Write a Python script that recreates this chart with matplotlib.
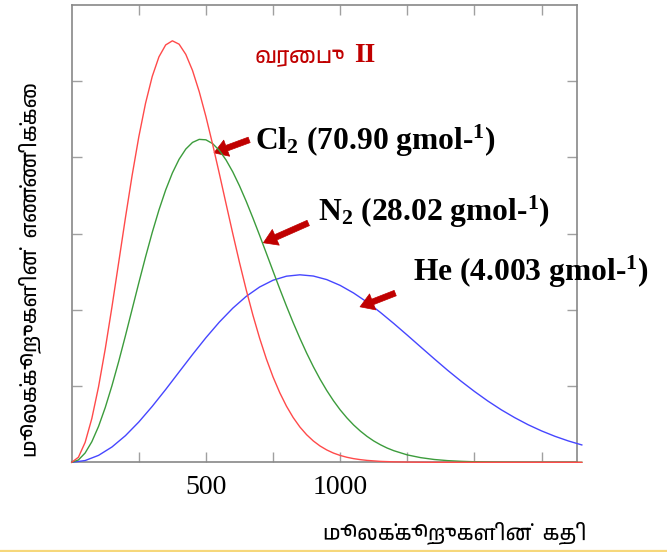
import matplotlib
matplotlib.use("Agg")
import matplotlib.pyplot as plt
from matplotlib import font_manager as fm
from matplotlib.lines import Line2D

# ---------------- data ----------------
cl2_speed = [0, 25, 50, 75, 100, 125, 150, 175, 200, 225, 250, 275, 300, 325, 350, 375,
             400, 425, 450, 475, 500, 525, 550, 575, 600, 625, 650, 675, 700, 725, 750,
             775, 800, 825, 850, 875, 900, 925, 950, 975, 1000, 1025, 1050, 1075, 1100,
             1150, 1200, 1250, 1300, 1350, 1900]
cl2_count = [0, 0.066, 0.261, 0.575, 0.991, 1.488, 2.040, 2.622, 3.205, 3.763, 4.271, 4.710,
             5.063, 5.320, 5.476, 5.530, 5.486, 5.352, 5.141, 4.863, 4.535, 4.171, 3.786,
             3.391, 3.000, 2.621, 2.263, 1.930, 1.628, 1.357, 1.119, 0.913, 0.736, 0.587,
             0.463, 0.362, 0.280, 0.214, 0.162, 0.121, 0.090, 0.066, 0.048, 0.035, 0.025,
             0.012, 0.006, 0.003, 0.001, 0, 0]

n2_speed = [0, 25, 50, 75, 100, 125, 150, 175, 200, 225, 250, 275, 300, 325, 350, 375,
            400, 425, 450, 475, 500, 525, 550, 575, 600, 625, 650, 675, 700, 725, 750,
            775, 800, 825, 850, 875, 900, 925, 950, 975, 1000, 1025, 1050, 1075, 1100,
            1125, 1150, 1175, 1200, 1250, 1300, 1350, 1400, 1450, 1500, 1550, 1600, 1650,
            1700, 1900]
n2_count = [0, 0.031, 0.122, 0.270, 0.471, 0.719, 1.006, 1.322, 1.659, 2.007, 2.355, 2.694,
            3.016, 3.311, 3.573, 3.796, 3.976, 4.110, 4.197, 4.237, 4.231, 4.181, 4.092,
            3.966, 3.810, 3.627, 3.424, 3.205, 2.977, 2.743, 2.508, 2.275, 2.049, 1.832,
            1.627, 1.434, 1.255, 1.091, 0.942, 0.808, 0.688, 0.583, 0.490, 0.410, 0.340,
            0.280, 0.230, 0.187, 0.152, 0.097, 0.061, 0.037, 0.022, 0.013, 0.007, 0.004,
            0.002, 0.001, 0, 0]

he_speed = [0, 50, 100, 150, 200, 250, 300, 350, 400, 450, 500, 550, 600, 650, 700, 750,
            800, 850, 900, 950, 1000, 1050, 1100, 1150, 1200, 1250, 1300, 1350, 1400, 1450,
            1500, 1550, 1600, 1650, 1700, 1750, 1800, 1850, 1900]
he_count = [0, 0.023, 0.091, 0.201, 0.349, 0.529, 0.734, 0.955, 1.185, 1.414, 1.635, 1.840,
            2.022, 2.177, 2.300, 2.389, 2.442, 2.460, 2.444, 2.397, 2.321, 2.221, 2.102,
            1.966, 1.820, 1.668, 1.513, 1.359, 1.208, 1.065, 0.930, 0.804, 0.689, 0.586,
            0.493, 0.412, 0.341, 0.280, 0.228]

x_ticks = [250, 500, 750, 1000, 1250, 1500, 1750]
x_tick_labels = ["", "500", "", "1000", "", "", ""]
y_ticks = [1, 2, 3, 4, 5]

title_ta = "வரைபு"
title_num = "II"
x_label = "மூலக்கூறுகளின்  கதி"
y_label = "மூலக்கூறுகளின்  எண்ணிக்கை"
label_cl2 = "Cl$_2$ (70.90 gmol-$^1$)"
label_n2 = "N$_2$ (28.02 gmol-$^1$)"
label_he = "He (4.003 gmol-$^1$)"

# arrow tips (on curves) and tails, in data units
arrow_cl2 = ((530, 4.06), (661, 4.23))
arrow_n2 = ((714, 2.88), (881, 3.14))
arrow_he = ((1074, 2.04), (1205, 2.22))


# ---------------- fonts ----------------
def find_tamil_font():
    try:
        from matplotlib.ft2font import FT2Font
    except Exception:
        return None
    cands = sorted(fm.fontManager.ttflist, key=lambda f: ("Tamil" not in f.name, f.name))
    seen = set()
    for f in cands:
        if "CJK" in f.name or f.fname in seen:
            continue
        seen.add(f.fname)
        try:
            if 0x0B95 in FT2Font(f.fname).get_charmap():
                return f.name
        except Exception:
            pass
    return None


tamil = find_tamil_font()
tamil_family = [tamil, "DejaVu Sans"] if tamil else ["DejaVu Sans"]
serif = "Liberation Serif"

plt.rcParams["mathtext.default"] = "regular"

W, H = 667, 552
fig = plt.figure(figsize=(W / 100, H / 100), dpi=100)
fig.patch.set_facecolor("white")


def fx(px):
    return px / W


def fy(py):
    return 1 - py / H


ax = fig.add_axes([fx(71.7), fy(462.3), fx(576.7) - fx(71.7), fy(5) - fy(462.3)])

ax.plot(he_speed, he_count, color="#4646ff", lw=1.0, zorder=3, clip_on=False)
ax.plot(n2_speed, n2_count, color="#3c9c3c", lw=1.0, zorder=4, clip_on=False)
ax.plot(cl2_speed, cl2_count, color="#ff4a4a", lw=1.0, zorder=5, clip_on=False)

ax.set_xlim(0, 1881)
ax.set_ylim(0, 6)
ax.set_xticks(x_ticks)
ax.set_xticklabels(x_tick_labels, fontfamily=serif, fontsize=20)
ax.set_yticks(y_ticks)
ax.set_yticklabels([])
ax.tick_params(axis="both", direction="in", length=7.5, width=1.0, color="#a0a0a0",
               top=True, right=True)
ax.tick_params(axis="x", pad=9)
for s in ax.spines.values():
    s.set_color("#888888")
    s.set_linewidth(1.2)

# annotations
ann_size = 22.7
fig.text(fx(255), fy(141), label_cl2, fontfamily=serif, fontweight="bold", fontsize=ann_size,
         ha="left", va="center")
fig.text(fx(318), fy(212), label_n2, fontfamily=serif, fontweight="bold", fontsize=ann_size,
         ha="left", va="center")
fig.text(fx(413), fy(272), label_he, fontfamily=serif, fontweight="bold", fontsize=ann_size,
         ha="left", va="center")

arrow_style = dict(arrowstyle="simple,head_length=0.75,head_width=0.95,tail_width=0.32",
                   fc="#c00000", ec="#c00000", lw=0.5, mutation_scale=13,
                   shrinkA=0, shrinkB=0)
for tip, tail in (arrow_cl2, arrow_n2, arrow_he):
    ax.annotate("", xy=tip, xytext=tail, arrowprops=arrow_style, annotation_clip=False)

# title
fig.text(fx(300), fy(58), title_ta, family=tamil_family, fontweight="bold", fontsize=16,
         color="#c00000", ha="center", va="center")
fig.text(fx(365), fy(55), title_num, fontfamily=serif, fontweight="bold", fontsize=20,
         color="#c00000", ha="center", va="center")

# axis labels
fig.text(fx(455), fy(533), x_label, family=tamil_family, fontweight="bold", fontsize=15,
         ha="center", va="center")
fig.text(fx(30), fy(270), y_label, family=tamil_family, fontweight="bold", fontsize=15,
         rotation=90, ha="center", va="center")

# thin yellow rule along the bottom edge
fig.add_artist(Line2D([0, 1], [fy(550.5), fy(550.5)], transform=fig.transFigure,
                      color="#f6d77a", lw=1.6))

fig.savefig("out.png", dpi=100, facecolor="white")
